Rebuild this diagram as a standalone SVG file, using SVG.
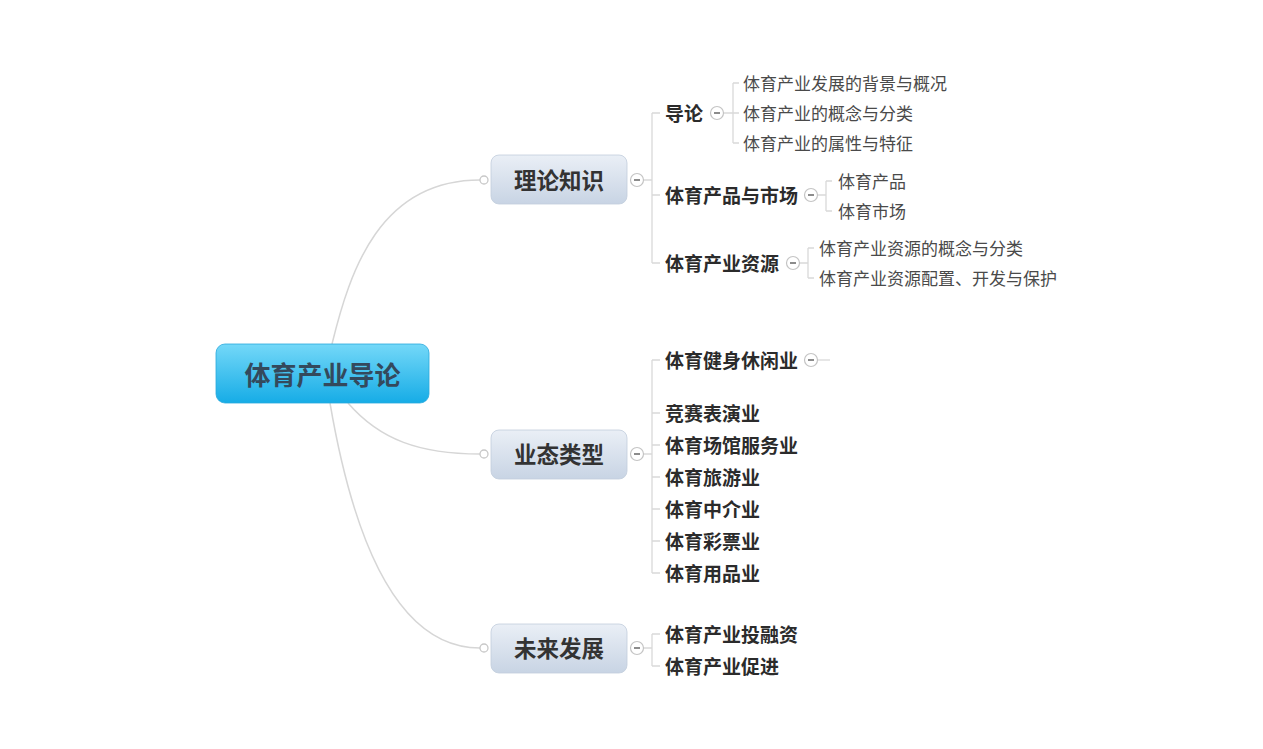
<svg xmlns="http://www.w3.org/2000/svg" width="1263" height="749" viewBox="0 0 1263 749">
<defs>
<linearGradient id="gCenter" x1="0" y1="0" x2="0" y2="1">
<stop offset="0" stop-color="#74d8f8"/>
<stop offset="1" stop-color="#16ace6"/>
</linearGradient>
<linearGradient id="gBranch" x1="0" y1="0" x2="0" y2="1">
<stop offset="0" stop-color="#eaeff6"/>
<stop offset="1" stop-color="#c8d4e4"/>
</linearGradient>
</defs>
<style>
text{font-family:"Noto Sans CJK SC","Liberation Sans",sans-serif;}
.center{font-size:26px;font-weight:bold;fill:#34495c;}
.branch{font-size:22.5px;font-weight:bold;fill:#333;}
.l2{font-size:19px;font-weight:bold;fill:#2b2b2b;}
.l3{font-size:17px;fill:#4a4a4a;}
.curve{fill:none;stroke:#d6d6d6;stroke-width:1.5;}
.line{fill:none;stroke:#d9d9d9;stroke-width:1.3;}
.dot{fill:#fff;stroke:#c8c8c8;stroke-width:1.3;}
.col{fill:#fff;stroke:#c4c4c4;stroke-width:1.2;}
.minus{stroke:#666;stroke-width:1.5;}
</style>
<rect width="1263" height="749" fill="#ffffff"/>
<g id="connectors">
<path class="curve" d="M332,344 C350,270 380,180 480,180"/>
<path class="curve" d="M348,403 C380,440 420,454 480,454"/>
<path class="curve" d="M330,403 C350,520 390,648 480,648"/>
<path class="line" d="M644,180 H652 M652,113 V263 M652,113 H660 M652,195 H660 M652,263 H660"/>
<path class="line" d="M724,113 H733 M733,83 V143 M733,83 H739 M733,143 H739 M733,113 H739"/>
<path class="line" d="M818,195 H826 M826,181 V211 M826,181 H832 M826,211 H832"/>
<path class="line" d="M800,263 H808 M808,248 V278 M808,248 H814 M808,278 H814"/>
<path class="line" d="M644,454 H652 M652,360 V573 M652,360 H660 M652,413 H660 M652,445 H660 M652,477 H660 M652,509 H660 M652,541 H660 M652,573 H660"/>
<path class="line" d="M818,360 H830"/>
<path class="line" d="M644,648 H652 M652,634 V666 M652,634 H660 M652,666 H660"/>
</g>
<g id="n-center">
<rect x="216" y="344" width="213" height="59" rx="9" fill="url(#gCenter)" stroke="#2aa8dc" stroke-width="0.8"/>
<text class="center" x="322.5" y="373" text-anchor="middle" dominant-baseline="central">体育产业导论</text>
</g>
<g id="n-lilun">
<circle class="dot" cx="484" cy="180" r="4"/>
<rect x="491" y="155" width="136" height="49" rx="8" fill="url(#gBranch)" stroke="#c2cddc" stroke-width="0.8"/>
<text class="branch" x="559" y="179" text-anchor="middle" dominant-baseline="central">理论知识</text>
<circle class="col" cx="637" cy="180" r="6.5"/><line class="minus" x1="634" y1="180" x2="640" y2="180"/>
</g>
<g id="n-daolun">
<text class="l2" x="665" y="112" dominant-baseline="central">导论</text>
<circle class="col" cx="717" cy="113" r="6.5"/><line class="minus" x1="714" y1="113" x2="720" y2="113"/>
</g>
<g id="n-d1"><text class="l3" x="743" y="82" dominant-baseline="central">体育产业发展的背景与概况</text></g>
<g id="n-d2"><text class="l3" x="743" y="112" dominant-baseline="central">体育产业的概念与分类</text></g>
<g id="n-d3"><text class="l3" x="743" y="142" dominant-baseline="central">体育产业的属性与特征</text></g>
<g id="n-chanpin">
<text class="l2" x="665" y="194" dominant-baseline="central">体育产品与市场</text>
<circle class="col" cx="811" cy="195" r="6.5"/><line class="minus" x1="808" y1="195" x2="814" y2="195"/>
</g>
<g id="n-c1"><text class="l3" x="838" y="180" dominant-baseline="central">体育产品</text></g>
<g id="n-c2"><text class="l3" x="838" y="210" dominant-baseline="central">体育市场</text></g>
<g id="n-ziyuan">
<text class="l2" x="665" y="262" dominant-baseline="central">体育产业资源</text>
<circle class="col" cx="793" cy="263" r="6.5"/><line class="minus" x1="790" y1="263" x2="796" y2="263"/>
</g>
<g id="n-z1"><text class="l3" x="819" y="247" dominant-baseline="central">体育产业资源的概念与分类</text></g>
<g id="n-z2"><text class="l3" x="819" y="277" dominant-baseline="central">体育产业资源配置、开发与保护</text></g>
<g id="n-yetai">
<circle class="dot" cx="484" cy="454" r="4"/>
<rect x="491" y="430" width="136" height="49" rx="8" fill="url(#gBranch)" stroke="#c2cddc" stroke-width="0.8"/>
<text class="branch" x="559" y="453" text-anchor="middle" dominant-baseline="central">业态类型</text>
<circle class="col" cx="637" cy="454" r="6.5"/><line class="minus" x1="634" y1="454" x2="640" y2="454"/>
</g>
<g id="n-y1">
<text class="l2" x="665" y="359" dominant-baseline="central">体育健身休闲业</text>
<circle class="col" cx="811" cy="360" r="6.5"/><line class="minus" x1="808" y1="360" x2="814" y2="360"/>
</g>
<g id="n-y2"><text class="l2" x="665" y="412" dominant-baseline="central">竞赛表演业</text></g>
<g id="n-y3"><text class="l2" x="665" y="444" dominant-baseline="central">体育场馆服务业</text></g>
<g id="n-y4"><text class="l2" x="665" y="476" dominant-baseline="central">体育旅游业</text></g>
<g id="n-y5"><text class="l2" x="665" y="508" dominant-baseline="central">体育中介业</text></g>
<g id="n-y6"><text class="l2" x="665" y="540" dominant-baseline="central">体育彩票业</text></g>
<g id="n-y7"><text class="l2" x="665" y="572" dominant-baseline="central">体育用品业</text></g>
<g id="n-weilai">
<circle class="dot" cx="484" cy="648" r="4"/>
<rect x="491" y="624" width="136" height="49" rx="8" fill="url(#gBranch)" stroke="#c2cddc" stroke-width="0.8"/>
<text class="branch" x="559" y="647" text-anchor="middle" dominant-baseline="central">未来发展</text>
<circle class="col" cx="637" cy="648" r="6.5"/><line class="minus" x1="634" y1="648" x2="640" y2="648"/>
</g>
<g id="n-w1"><text class="l2" x="665" y="633" dominant-baseline="central">体育产业投融资</text></g>
<g id="n-w2"><text class="l2" x="665" y="665" dominant-baseline="central">体育产业促进</text></g>
</svg>
